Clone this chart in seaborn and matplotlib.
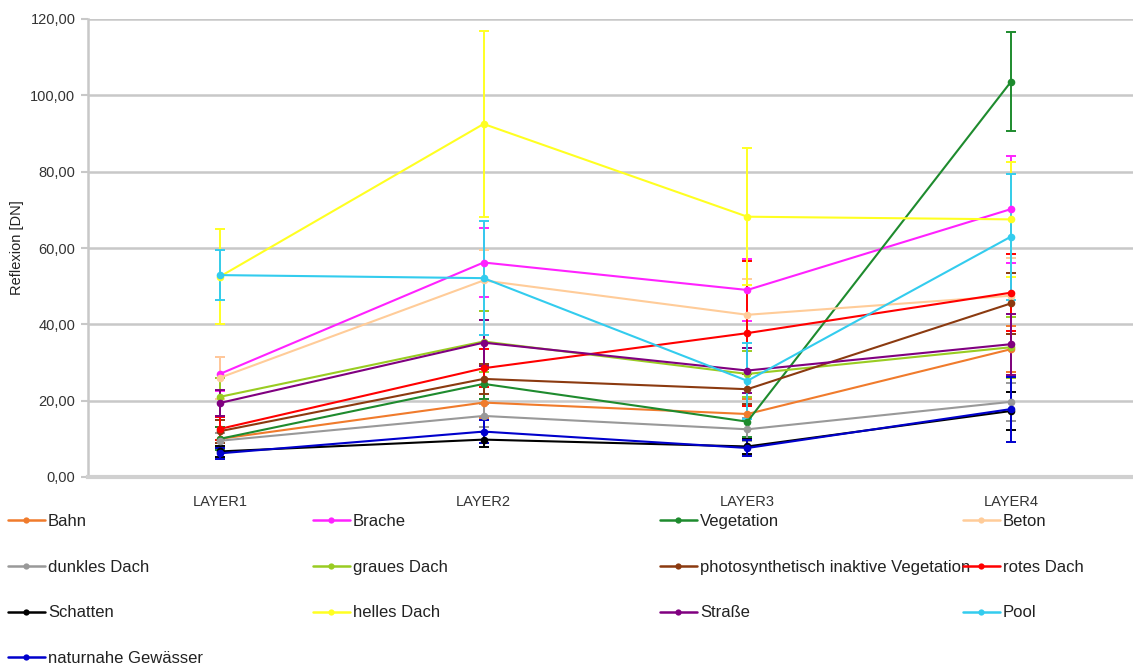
import matplotlib
matplotlib.use("Agg")
import matplotlib.pyplot as plt
from matplotlib.lines import Line2D
from matplotlib.ticker import FuncFormatter, MultipleLocator
import numpy as np
import pandas as pd
import seaborn as sns

# Mean reflectance per class and layer, with standard deviations
layers = ["LAYER1", "LAYER2", "LAYER3", "LAYER4"]

classes = [
    "Bahn", "Brache", "Vegetation", "Beton",
    "dunkles Dach", "graues Dach", "photosynthetisch inaktive Vegetation", "rotes Dach",
    "Schatten", "helles Dach", "Straße", "Pool",
    "naturnahe Gewässer",
]

bahn = [10.0, 19.5, 16.5, 33.5]
brache = [27.0, 56.2, 49.0, 70.2]
vegetation = [10.0, 24.4, 14.5, 103.6]
beton = [26.0, 51.5, 42.5, 47.5]
dunkles_dach = [9.5, 16.0, 12.5, 19.7]
graues_dach = [21.0, 35.5, 27.0, 34.0]
pi_vegetation = [12.0, 25.7, 23.0, 45.5]
rotes_dach = [12.6, 28.5, 37.7, 48.3]
schatten = [6.7, 9.8, 8.0, 17.3]
helles_dach = [52.5, 92.5, 68.2, 67.5]
strasse = [19.4, 35.2, 27.9, 34.8]
pool = [52.9, 52.1, 25.2, 63.0]
gewaesser = [6.2, 11.9, 7.6, 17.8]

bahn_sd = [3.0, 4.0, 4.0, 6.0]
brache_sd = [4.4, 9.0, 8.0, 14.0]
vegetation_sd = [3.0, 4.0, 4.0, 13.0]
beton_sd = [5.5, 8.0, 9.5, 10.0]
dunkles_dach_sd = [2.0, 3.0, 3.0, 5.0]
graues_dach_sd = [5.0, 8.0, 6.0, 8.0]
pi_vegetation_sd = [3.0, 4.0, 4.0, 8.0]
rotes_dach_sd = [3.0, 5.0, 19.0, 10.0]
schatten_sd = [1.5, 2.0, 2.0, 5.0]
helles_dach_sd = [12.5, 24.3, 18.0, 15.0]
strasse_sd = [3.5, 6.0, 6.0, 8.0]
pool_sd = [6.5, 15.0, 10.0, 16.5]
gewaesser_sd = [1.5, 3.0, 2.0, 8.5]

means = [bahn, brache, vegetation, beton, dunkles_dach, graues_dach, pi_vegetation,
         rotes_dach, schatten, helles_dach, strasse, pool, gewaesser]
sds = [bahn_sd, brache_sd, vegetation_sd, beton_sd, dunkles_dach_sd, graues_dach_sd,
       pi_vegetation_sd, rotes_dach_sd, schatten_sd, helles_dach_sd, strasse_sd,
       pool_sd, gewaesser_sd]

colors = [
    "#F07B2C", "#FF22FF", "#1E8B2E", "#FFCC99",
    "#999999", "#99CC22", "#8B3A10", "#FF0000",
    "#000000", "#FFFF22", "#800080", "#33CCEE",
    "#0000CC",
]
palette = dict(zip(classes, colors))

rows = []
for name, vals, errs in zip(classes, means, sds):
    for layer, v, e in zip(layers, vals, errs):
        rows.append({"Klasse": name, "Layer": layer, "Reflexion": v, "sd": e})
df = pd.DataFrame(rows)

sns.set_style("white")
plt.rcParams["font.family"] = ["Liberation Sans", "DejaVu Sans"]

W, H = 1133, 668
fig = plt.figure(figsize=(W / 100, H / 100), dpi=100)
ax = fig.add_axes([88 / W, 1 - 477 / H, (W - 88) / W, (477 - 19) / H])

grid_col = "#c8c8c8"

# error bars first, then the connecting lines with markers
for name in classes:
    sub = df[df["Klasse"] == name]
    ax.errorbar(sub["Layer"], sub["Reflexion"], yerr=sub["sd"], fmt="none",
                ecolor=palette[name], elinewidth=1.4, capsize=3.6, capthick=1.4,
                zorder=2)

sns.lineplot(data=df, x="Layer", y="Reflexion", hue="Klasse", hue_order=classes,
             palette=palette, marker="o", markersize=5.5, markeredgewidth=0,
             linewidth=1.5, sort=False, legend=False, ax=ax, zorder=3)

ax.set_xlim(-0.5, (W - 220) / 263.7)
ax.set_ylim(0, 120)
ax.yaxis.set_major_locator(MultipleLocator(20))
ax.yaxis.set_major_formatter(FuncFormatter(lambda v, p: f"{v:.2f}".replace(".", ",")))
ax.grid(axis="y", color=grid_col, linewidth=1.8)
ax.set_axisbelow(True)

for s in ["top", "right"]:
    ax.spines[s].set_visible(False)
ax.spines["left"].set_color(grid_col)
ax.spines["left"].set_linewidth(1.8)
ax.spines["bottom"].set_color("#d0d0d0")
ax.spines["bottom"].set_linewidth(3)

ax.tick_params(axis="y", length=5, width=1.5, color=grid_col, labelsize=10.5,
               labelcolor="#333333", pad=4, left=True)
ax.tick_params(axis="x", length=0, labelsize=10.5, labelcolor="#333333", pad=13)

ax.set_xlabel("")
ax.set_ylabel("Reflexion [DN]", fontsize=10.5, color="#222222")
ax.yaxis.set_label_coords(-(88 - 24) / (W - 88), 0.5)

# legend laid out in four fixed-width columns, filled row by row
col_x = [8, 313, 660, 963]
ncols = 4
for c in range(ncols):
    idx = list(range(c, len(classes), ncols))
    handles = [Line2D([], [], color=palette[classes[i]], marker="o", markersize=4.5,
                      markeredgewidth=0, linewidth=1.8) for i in idx]
    labels = [classes[i] for i in idx]
    fig.legend(handles, labels, loc="upper left",
               bbox_to_anchor=(col_x[c] / W, 1 - 514 / H),
               frameon=False, fontsize=12, handlelength=2.2, handletextpad=0.2,
               labelspacing=1.84, borderpad=0, borderaxespad=0,
               labelcolor="#222222")

fig.savefig("out.png", dpi=100, facecolor="white")
